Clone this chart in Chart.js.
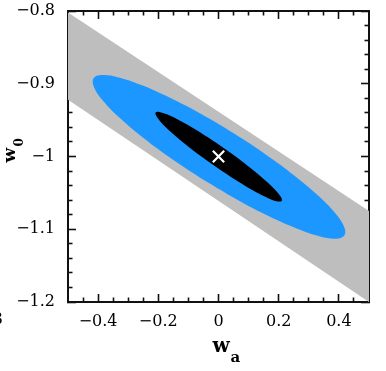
<!DOCTYPE html>
<html><head><meta charset="utf-8">
<script src="https://cdn.jsdelivr.net/npm/chart.js@4.4.1/dist/chart.umd.min.js"></script>
<style>html,body{margin:0;padding:0;background:#fff;}canvas{display:block;}</style>
</head><body>
<canvas id="c" width="386" height="371"></canvas>
<script>
// ---- axis ticks ----
const xMajorTicks = [-0.4, -0.2, 0, 0.2, 0.4];
const xTickLabels = ["−0.4", "−0.2", "0", "0.2", "0.4"];
const xMinorTicks = [-0.45, -0.35, -0.3, -0.25, -0.15, -0.1, -0.05, 0.05, 0.1, 0.15, 0.25, 0.3, 0.35, 0.45];
const yMajorTicks = [-1.2, -1.1, -1.0, -0.9, -0.8];
const yTickLabels = ["−1.2", "−1.1", "−1", "−0.9", "−0.8"];
const yMinorTicks = [-1.18, -1.16, -1.14, -1.12, -1.08, -1.06, -1.04, -1.02, -0.98, -0.96, -0.94, -0.92, -0.88, -0.86, -0.84, -0.82];

// ---- gray band (outer constraint) ----
const bandWa = [-0.5, 0.5, 0.5, -0.5];
const bandW0 = [-0.802, -1.075, -1.2, -0.922];

// ---- blue contour (closed outline) ----
const blueWa = [-0.0472, -0.1535, -0.2492, -0.3276, -0.3837, -0.4136, -0.4153, -0.3884, -0.3350, -0.2585, -0.1645, -0.0591, 0.0505, 0.1568, 0.2525, 0.3309, 0.3872, 0.4169, 0.4186, 0.3917, 0.3382, 0.2618, 0.1678, 0.0625, -0.0472];
const blueW0 = [-1.0327, -1.0037, -0.9746, -0.9471, -0.9233, -0.9047, -0.8926, -0.8880, -0.8909, -0.9014, -0.9186, -0.9413, -0.9681, -0.9971, -1.0263, -1.0537, -1.0776, -1.0961, -1.1082, -1.1129, -1.1100, -1.0994, -1.0823, -1.0595, -1.0327];

// ---- black contour (closed outline) ----
const blackWa = [-0.0184, -0.0721, -0.1206, -0.1611, -0.1904, -0.2066, -0.2090, -0.1970, -0.1714, -0.1339, -0.0877, -0.0352, 0.0196, 0.0734, 0.1219, 0.1625, 0.1917, 0.2080, 0.2103, 0.1983, 0.1728, 0.1352, 0.0890, 0.0365, -0.0184];
const blackW0 = [-1.0115, -0.9955, -0.9797, -0.9652, -0.9533, -0.9445, -0.9395, -0.9387, -0.9420, -0.9494, -0.9601, -0.9737, -0.9890, -1.0051, -1.0209, -1.0353, -1.0473, -1.0561, -1.0610, -1.0619, -1.0586, -1.0511, -1.0404, -1.0269, -1.0115];

// ---- fiducial model ----
const fiducialWa = [0];
const fiducialW0 = [-1];

const X_MIN = -0.5, X_MAX = 0.5, Y_MIN = -1.2, Y_MAX = -0.8;

function zip(xs, ys) { return xs.map((x, i) => ({x: x, y: ys[i]})); }

const tickFont = {family: 'DejaVu Serif', size: 16};
const AX = '#111';

function axis(opts) {
  const horizontal = opts.axis === 'x';
  return {
    type: 'linear',
    axis: opts.axis,
    position: opts.position,
    min: horizontal ? X_MIN : Y_MIN,
    max: horizontal ? X_MAX : Y_MAX,
    weight: opts.major ? 1 : 0,
    afterBuildTicks: s => { s.ticks = opts.values.map(v => ({value: v})); },
    afterFit: s => {
      if (horizontal) s.height = opts.size; else s.width = opts.size;
      s.paddingTop = 0; s.paddingBottom = 0; s.paddingLeft = 0; s.paddingRight = 0;
    },
    grid: {display: true, drawOnChartArea: false, drawTicks: true,
           tickLength: opts.major ? -8 : -4.5, tickColor: AX, tickWidth: 1.6},
    border: {display: !!opts.major, color: AX, width: 2},
    ticks: {
      display: !!opts.labels, autoSkip: false, maxRotation: 0, minRotation: 0,
      padding: opts.padding || 0, color: '#000', font: tickFont,
      callback: (v, i) => opts.labels ? opts.labels[i] : ''
    }
  };
}

const titlePlugin = {
  id: 'titles',
  afterDraw(chart) {
    const ctx = chart.ctx;
    const a = chart.chartArea;
    const cx = (a.left + a.right) / 2;
    ctx.save();
    ctx.fillStyle = '#000';
    ctx.textBaseline = 'alphabetic';
    ctx.textAlign = 'left';
    // x-axis title w_a
    ctx.font = 'bold 20px "DejaVu Serif"';
    ctx.fillText('w', cx - 6, 352);
    ctx.font = 'bold 15px "DejaVu Serif"';
    ctx.fillText('a', cx + 12, 362);
    // y-axis title w_0 (rotated)
    const cy = (a.top + a.bottom) / 2;
    ctx.translate(15, cy + 6);
    ctx.rotate(-Math.PI / 2);
    ctx.font = 'bold 17px "DejaVu Serif"';
    ctx.fillText('w', 0, 0);
    ctx.font = 'bold 12px "DejaVu Serif"';
    ctx.fillText('0', 16, 8);
    ctx.restore();
    // clipped label fragment at the left edge
    ctx.save();
    ctx.fillStyle = '#000';
    ctx.font = '16px "DejaVu Serif"';
    ctx.textAlign = 'right';
    ctx.textBaseline = 'alphabetic';
    ctx.fillText('3', 3, 324);
    ctx.restore();
  }
};

const bgPlugin = {
  id: 'bg',
  beforeDraw(chart) {
    const ctx = chart.ctx;
    ctx.save();
    ctx.fillStyle = '#fff';
    ctx.fillRect(0, 0, chart.width, chart.height);
    ctx.restore();
  }
};

new Chart(document.getElementById('c'), {
  type: 'scatter',
  data: {
    datasets: [
      {
        label: 'fiducial',
        data: zip(fiducialWa, fiducialW0),
        showLine: false,
        pointStyle: 'crossRot',
        pointRadius: 8,
        pointBorderColor: '#ffffff',
        pointBackgroundColor: '#ffffff',
        pointBorderWidth: 2.2,
        pointHoverRadius: 8
      },
      {
        label: 'inner',
        data: zip(blackWa, blackW0),
        showLine: true,
        fill: 'shape',
        backgroundColor: '#000000',
        borderColor: 'transparent',
        borderWidth: 1,
        pointRadius: 0,
        pointHoverRadius: 0,
        tension: 0.3,
        capBezierPoints: false
      },
      {
        label: 'middle',
        data: zip(blueWa, blueW0),
        showLine: true,
        fill: 'shape',
        backgroundColor: '#1c97ff',
        borderColor: 'transparent',
        borderWidth: 1,
        pointRadius: 0,
        pointHoverRadius: 0,
        tension: 0.4,
        capBezierPoints: false
      },
      {
        label: 'outer',
        data: zip(bandWa, bandW0),
        showLine: true,
        fill: 'shape',
        backgroundColor: '#bebebe',
        borderColor: 'transparent',
        borderWidth: 1,
        pointRadius: 0,
        pointHoverRadius: 0,
        tension: 0
      }
    ]
  },
  options: {
    responsive: false,
    animation: false,
    events: [],
    layout: {padding: 0},
    plugins: {legend: {display: false}, tooltip: {enabled: false}},
    scales: {
      x: axis({axis: 'x', position: 'bottom', major: true, values: xMajorTicks, labels: xTickLabels, size: 69, padding: 18}),
      xMinor: axis({axis: 'x', position: 'bottom', values: xMinorTicks, size: 0}),
      xTop: axis({axis: 'x', position: 'top', major: true, values: xMajorTicks, size: 11}),
      xTopMinor: axis({axis: 'x', position: 'top', values: xMinorTicks, size: 0}),
      y: axis({axis: 'y', position: 'left', major: true, values: yMajorTicks, labels: yTickLabels, size: 68, padding: 21}),
      yMinor: axis({axis: 'y', position: 'left', values: yMinorTicks, size: 0}),
      yRight: axis({axis: 'y', position: 'right', major: true, values: yMajorTicks, size: 17}),
      yRightMinor: axis({axis: 'y', position: 'right', values: yMinorTicks, size: 0})
    }
  },
  plugins: [bgPlugin, titlePlugin]
});
</script>
</body></html>
